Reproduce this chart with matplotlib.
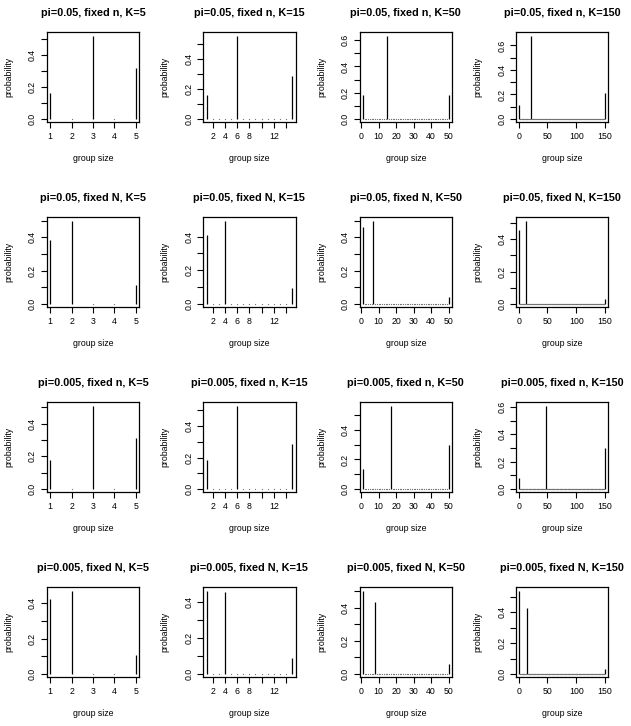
import numpy as np
import matplotlib
matplotlib.use("Agg")
import matplotlib.pyplot as plt

plt.rcParams['font.family'] = ['Liberation Sans', 'DejaVu Sans']

# panel settings, row by row
pis = ["0.05", "0.05", "0.005", "0.005"]
fixed = ["n", "N", "n", "N"]
Ks = [5, 15, 50, 150]

# group sizes with non-zero probability (all other sizes are 0)
spike_sizes = [
    [[1, 3, 5], [1, 6, 15], [1, 15, 50], [1, 22, 150]],
    [[1, 2, 5], [1, 4, 15], [1, 7, 50], [1, 12, 150]],
    [[1, 3, 5], [1, 6, 15], [1, 17, 50], [1, 47, 150]],
    [[1, 2, 5], [1, 4, 15], [1, 8, 50], [1, 14, 150]],
]
spike_probs = [
    [[0.16, 0.52, 0.32], [0.16, 0.555, 0.285], [0.18, 0.635, 0.185], [0.11, 0.68, 0.21]],
    [[0.385, 0.50, 0.115], [0.41, 0.495, 0.095], [0.46, 0.50, 0.04], [0.455, 0.515, 0.03]],
    [[0.18, 0.51, 0.31], [0.185, 0.53, 0.285], [0.135, 0.565, 0.30], [0.08, 0.61, 0.30]],
    [[0.425, 0.47, 0.105], [0.46, 0.45, 0.09], [0.505, 0.435, 0.06], [0.54, 0.43, 0.03]],
]

xticks = {5: [1, 2, 3, 4, 5], 15: [2, 4, 6, 8, 10, 12, 14], 50: [0, 10, 20, 30, 40, 50], 150: [0, 50, 100, 150]}
xlabels = {5: ["1", "2", "3", "4", "5"], 15: ["2", "4", "6", "8", "", "12", ""],
           50: ["0", "10", "20", "30", "40", "50"], 150: ["0", "50", "100", "150"]}

W, H = 631, 726
fig = plt.figure(figsize=(W / 100, H / 100), dpi=100)

bw, bh = 92.5, 90.0
for r in range(4):
    for c in range(4):
        K = Ks[c]
        left = 46.7 + 156.4 * c
        top = 32.3 + 185.0 * r
        ax = fig.add_axes([left / W, 1 - (top + bh) / H, bw / W, bh / H])

        sizes = np.arange(1, K + 1)
        prob = np.zeros(K)
        prob[np.array(spike_sizes[r][c]) - 1] = spike_probs[r][c]

        ax.vlines(sizes, 0, prob, color='black', lw=0.9)
        zero = prob == 0
        ax.plot(sizes[zero], prob[zero], 'o', ms=0.9, mew=0, color='0.45')

        pmax = prob.max()
        ax.set_xlim(1 - 0.04 * (K - 1), K + 0.04 * (K - 1))
        ax.set_ylim(-0.04 * pmax, 1.04 * pmax)

        ax.set_xticks(xticks[K])
        ax.set_xticklabels(xlabels[K])
        yt = np.arange(0, pmax + 1e-9, 0.1)
        ax.set_yticks(yt)
        ax.set_yticklabels(["%.1f" % v if i % 2 == 0 else "" for i, v in enumerate(yt)],
                           rotation=90, va='center')

        ax.tick_params(direction='out', length=4, width=0.8, labelsize=6.3, pad=3, colors='black')
        for s in ax.spines.values():
            s.set_linewidth(0.9)

        ax.set_xlabel("group size", fontsize=6.3)
        ax.xaxis.set_label_coords(0.5, -31.5 / bh)
        ax.set_ylabel("probability", fontsize=6.3)
        ax.yaxis.set_label_coords(-33.5 / bw, 0.5)

        title = "pi=%s, fixed %s, K=%d" % (pis[r], fixed[r], K)
        ax.text(0.5, 1 + 19 / bh, title, transform=ax.transAxes, ha='center', va='center',
                fontsize=7.8, fontweight='bold')

fig.savefig("out.png", dpi=100)
